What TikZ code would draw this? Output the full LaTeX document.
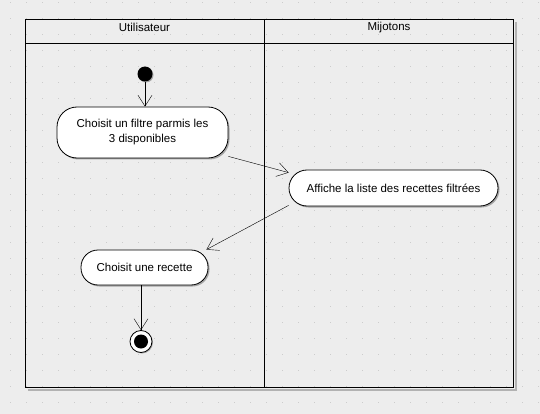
\documentclass[tikz,border=0pt]{standalone}
\usepackage{fontspec}
\setmainfont{Liberation Sans}
\usetikzlibrary{arrows.meta,shadows}
\begin{document}
\begin{tikzpicture}[x=1pt,y=-1pt,
  action/.style={draw,thick,fill=white,rounded corners=17pt,align=center,
    font=\fontsize{11.5}{15}\selectfont,inner sep=0pt,
    drop shadow={shadow xshift=1.5pt,shadow yshift=-1.5pt,fill=gray!70,opacity=1}},
  flow/.style={-{Straight Barb[length=11pt,width=14pt]}},
  lane/.style={font=\fontsize{11.5}{13}\selectfont}]
\useasboundingbox (0,0) rectangle (540,414);
\fill[gray!14] (0,0) rectangle (540,414);
% grid
\foreach \i in {0,...,33}
  \foreach \j in {0,...,25}
    \fill[gray!40] (10+16*\i,2+16*\j) rectangle +(1.2,1.2);
% swimlanes
\draw[gray!60,line width=2pt] (516,22) -- (516,390) -- (28,390);
\draw[thick] (25,19) rectangle (513,387);
\draw[thick] (25,43) -- (513,43);
\draw[thick] (264,19) -- (264,387);
\node[lane] (utilisateur) at (144.5,27.5) {Utilisateur};
\node[lane] (mijotons) at (389,27.5) {Mijotons};
% actions
\node[circle,fill=black,minimum size=15pt,inner sep=0pt,
  drop shadow={shadow xshift=1pt,shadow yshift=-1pt,fill=gray!70,opacity=1}] (start) at (145,74) {};
\node[action,minimum width=171pt,minimum height=51pt,rounded corners=20pt] (choix) at (142.5,132.5)
  {Choisit un filtre parmis les\\3 disponibles};
\node[action,minimum width=209pt,minimum height=36pt,rounded corners=18pt] (liste) at (393.5,188)
  {Affiche la liste des recettes filtrées};
\node[action,minimum width=127pt,minimum height=35pt] (recette) at (144.5,267.5)
  {Choisit une recette};
\node[circle,draw,thick,fill=white,minimum size=22pt,inner sep=0pt,
  drop shadow={shadow xshift=1pt,shadow yshift=-1pt,fill=gray!70,opacity=1}] (fin) at (141,341.5) {};
\fill (fin) circle (7pt);
% flows
\draw[flow] (start.south) -- (start.south |- choix.north);
\draw[flow] ([yshift=2pt]choix.south east) -- ([yshift=-3pt]liste.north west);
\draw[flow] ([yshift=1pt]liste.south west) -- ([xshift=-2pt]recette.north east);
\draw[flow] (fin |- recette.south) -- (fin.north);
\end{tikzpicture}
\end{document}
